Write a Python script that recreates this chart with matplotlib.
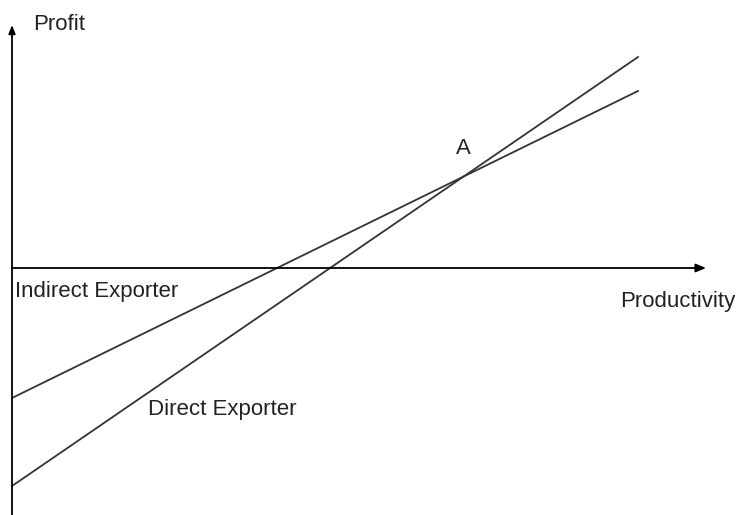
import matplotlib
matplotlib.use("Agg")
import matplotlib.pyplot as plt

# Data (productivity, profit) endpoints of each profit line
productivity = [0.0, 6.26]
indirect_profit = [-1.30, 1.77]
direct_profit = [-2.18, 2.11]

x_label = "Productivity"
y_label = "Profit"
point_label = "A"
indirect_label = "Indirect Exporter"
direct_label = "Direct Exporter"

fig = plt.figure(figsize=(7.38, 5.15), dpi=100)
ax = fig.add_axes([0, 0, 1, 1])
ax.set_xlim(-0.12, 7.26)
ax.set_ylim(-2.47, 2.68)
ax.axis("off")

col = "#333333"
font = "Liberation Sans"

# axes with arrows
ax.annotate("", xy=(0, 2.43), xytext=(0, -2.47),
            arrowprops=dict(arrowstyle="-|>,head_length=0.5,head_width=0.2", color="black", lw=1.3, shrinkA=0, shrinkB=0))
ax.annotate("", xy=(6.94, 0), xytext=(0, 0),
            arrowprops=dict(arrowstyle="-|>,head_length=0.6,head_width=0.25", color="black", lw=1.3, shrinkA=0, shrinkB=0))

ax.plot(productivity, indirect_profit, color=col, lw=1.3)
ax.plot(productivity, direct_profit, color=col, lw=1.3)

fs = 16
ax.text(0.21, 2.44, y_label, fontsize=fs, family=font, color="#222222", va="center", ha="left")
ax.text(6.08, -0.33, x_label, fontsize=fs, family=font, color="#222222", va="center", ha="left")
ax.text(4.51, 1.19, point_label, fontsize=fs, family=font, color="#222222", va="center", ha="center")
ax.text(0.03, -0.23, indirect_label, fontsize=fs, family=font, color="#222222", va="center", ha="left")
ax.text(1.36, -1.42, direct_label, fontsize=fs, family=font, color="#222222", va="center", ha="left")

fig.savefig("out.png", dpi=100)
